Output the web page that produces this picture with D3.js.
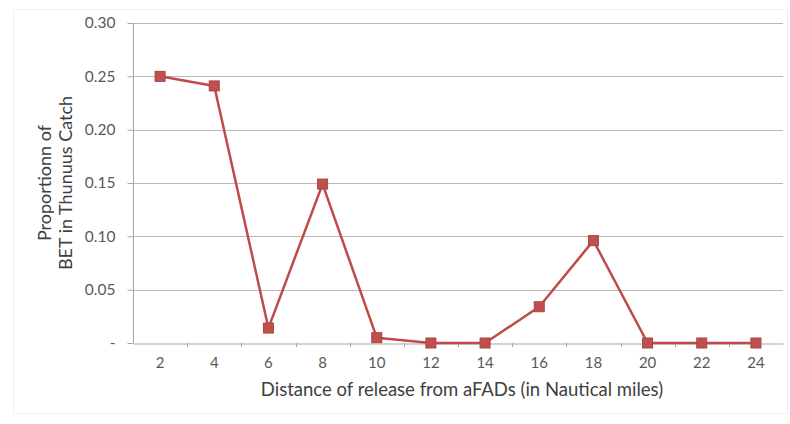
<!DOCTYPE html>
<html><head><meta charset="utf-8">
<script src="https://cdn.jsdelivr.net/npm/d3@7"></script>
<style>body{margin:0;background:#fff;}svg{display:block;}</style>
</head><body>
<svg id="c" width="790" height="424"></svg>
<script>
const categories = ["2","4","6","8","10","12","14","16","18","20","22","24"];
const values = [0.250, 0.241, 0.014, 0.149, 0.005, 0.0, 0.0, 0.034, 0.096, 0.0, 0.0, 0.0];
const yTicks = [0, 0.05, 0.10, 0.15, 0.20, 0.25, 0.30];
const yTickLabels = ["-", "0.05", "0.10", "0.15", "0.20", "0.25", "0.30"];
const xTitle = "Distance of release from aFADs (in Nautical miles)";
const yTitleLines = ["Proportionn of", "BET in Thunuus Catch"];

const svg = d3.select("#c");
const font = "Lato, 'Open Sans', sans-serif";
const m = {left:133, right:783, top:23, bottom:343};

svg.append("rect").attr("x",13.5).attr("y",9.5).attr("width",774).attr("height",404)
  .attr("fill","none").attr("stroke","#f0f0f0");

const x = d3.scaleBand().domain(categories).range([m.left, m.right]);
const y = d3.scaleLinear().domain([0,0.30]).range([m.bottom, m.top]);

// gridlines
svg.append("g").selectAll("line").data(yTicks.slice(1)).join("line")
  .attr("x1", m.left).attr("x2", m.right)
  .attr("y1", d=>Math.round(y(d))+0.5).attr("y2", d=>Math.round(y(d))+0.5)
  .attr("stroke","#b9b9b9").attr("stroke-width",1.2);

// y axis
const yAxis = svg.append("g").attr("transform",`translate(${m.left+0.5},0)`)
  .call(d3.axisLeft(y).tickValues(yTicks).tickSize(6).tickPadding(12)
    .tickFormat((d,i)=>yTickLabels[i]));
yAxis.select(".domain").attr("stroke","#a6a6a6").attr("d",`M-0,${m.top}V${m.bottom}`);
yAxis.selectAll(".tick line").attr("stroke","#a6a6a6");
yAxis.selectAll(".tick text").attr("font-family",font).attr("font-size",15.5).attr("fill","#595959");

// x axis
const xAxis = svg.append("g").attr("transform",`translate(0,${m.bottom+0.5})`)
  .call(d3.axisBottom(x).tickSize(0).tickPadding(14));
xAxis.select(".domain").attr("stroke","#a6a6a6").attr("stroke-width",1.2);
xAxis.selectAll(".tick text").attr("font-family",font).attr("font-size",15).attr("fill","#595959");
// tick marks at band boundaries
svg.append("g").selectAll("line").data(categories.slice(1)).join("line")
  .attr("x1", d=>Math.round(x(d))+0.5).attr("x2", d=>Math.round(x(d))+0.5)
  .attr("y1", m.bottom).attr("y2", m.bottom+4)
  .attr("stroke","#a6a6a6");

// line
const cx = d=>x(d)+x.bandwidth()/2;
const line = d3.line().x((d,i)=>cx(categories[i])).y(d=>y(d));
svg.append("path").datum(values).attr("d",line)
  .attr("fill","none").attr("stroke","#be4b48").attr("stroke-width",2.5).attr("stroke-linejoin","round");

svg.append("g").selectAll("rect").data(values).join("rect")
  .attr("x",(d,i)=>cx(categories[i])-5).attr("y",d=>y(d)-5)
  .attr("width",10).attr("height",10)
  .attr("fill","#c0504d").attr("stroke","#a94542").attr("stroke-width",1);

// titles
svg.append("text").attr("x",462).attr("y",396)
  .attr("text-anchor","middle").attr("font-family",font).attr("font-size",18.5).attr("fill","#404040")
  .text(xTitle);
const yt = svg.append("text").attr("transform",`translate(51,${(m.top+m.bottom)/2}) rotate(-90)`)
  .attr("text-anchor","middle").attr("font-family",font).attr("font-size",18).attr("fill","#404040");
yTitleLines.forEach((t,i)=>yt.append("tspan").attr("x",0).attr("dy", i===0? "0" : "21").text(t));
</script>
</body></html>
